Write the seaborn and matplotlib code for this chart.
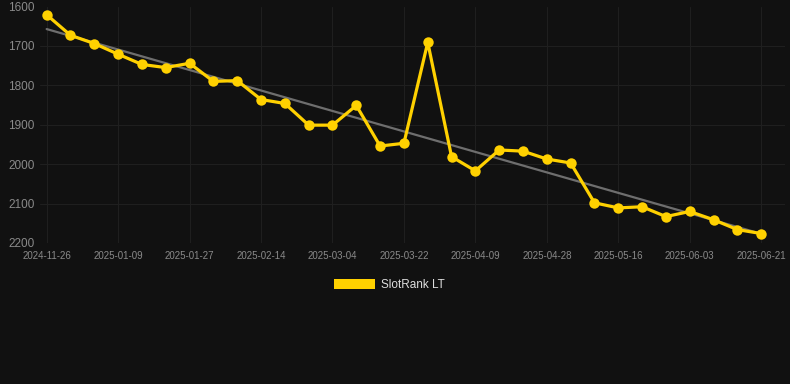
import numpy as np
import pandas as pd
import seaborn as sns
import matplotlib.pyplot as plt
from matplotlib.patches import Patch

# weekly-ish snapshots, category axis (equal spacing)
dates = ["2024-11-26", "2024-12-28", "2025-01-03", "2025-01-09", "2025-01-15",
         "2025-01-21", "2025-01-27", "2025-02-02", "2025-02-08", "2025-02-14",
         "2025-02-20", "2025-02-26", "2025-03-04", "2025-03-10", "2025-03-16",
         "2025-03-22", "2025-03-28", "2025-04-03", "2025-04-09", "2025-04-15",
         "2025-04-21", "2025-04-28", "2025-05-04", "2025-05-10", "2025-05-16",
         "2025-05-22", "2025-05-28", "2025-06-03", "2025-06-09", "2025-06-15",
         "2025-06-21"]
ranks = [1621, 1673, 1694, 1721, 1747, 1755, 1744, 1790, 1788, 1836,
         1846, 1901, 1901, 1851, 1954, 1947, 1691, 1981, 2017, 1964,
         1967, 1987, 1997, 2098, 2111, 2108, 2133, 2120, 2141, 2166,
         2176]
yticks = [1600, 1700, 1800, 1900, 2000, 2100, 2200]

df = pd.DataFrame({"date": dates, "rank": ranks})
df["i"] = np.arange(len(df))

bg = "#111111"
yellow = "#FFD100"

sns.set_style("dark")
plt.rcParams["font.family"] = ["Liberation Sans", "DejaVu Sans"]

fig = plt.figure(figsize=(7.9, 3.84), dpi=100, facecolor=bg)
ax = fig.add_axes([40 / 790, 1 - 243 / 384, 745 / 790, (243 - 6.5) / 384])
ax.set_facecolor(bg)

# trend line
coef = np.polyfit(df["i"], df["rank"], 1)
ax.plot(df["i"], np.polyval(coef, df["i"]), color="#6e6e6e", lw=1.6, zorder=2)

sns.lineplot(data=df, x="i", y="rank", ax=ax, color=yellow, lw=2.3,
             marker="o", markersize=7.5, markeredgewidth=0, zorder=3)

ax.set_xlim(-0.28, 31.0)
ax.set_ylim(2200, 1600)
ax.set_yticks(yticks)
ax.set_xticks(df["i"][::3])
ax.set_xticklabels(df["date"][::3])
ax.set(xlabel="", ylabel="")
ax.grid(True, color="#1f1f1f", lw=0.8)
ax.tick_params(axis="y", colors="#8a8a8a", labelsize=8.5, length=0, pad=4)
ax.tick_params(axis="x", colors="#8a8a8a", labelsize=7, length=0, pad=6)
for s in ax.spines.values():
    s.set_visible(False)

fig.legend([Patch(facecolor=yellow, edgecolor="none")], ["SlotRank LT"],
           loc="center", bbox_to_anchor=(389 / 790, 1 - 285 / 384),
           frameon=False, handlelength=3.5, handleheight=1.0,
           handletextpad=0.5, labelcolor="#dddddd", fontsize=8.5)

fig.savefig("out.png", dpi=100, facecolor=bg)
